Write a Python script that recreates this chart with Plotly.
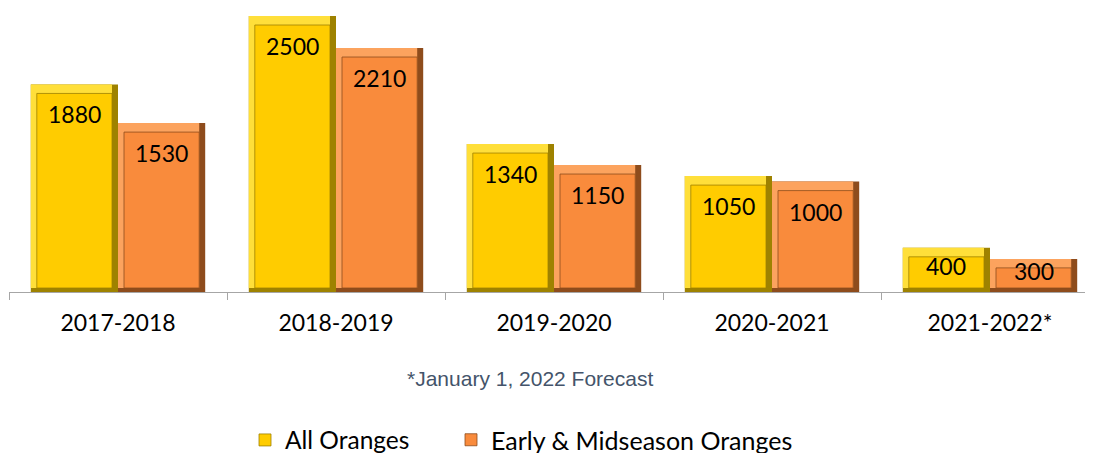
import plotly.graph_objects as go

categories = ["2017-2018", "2018-2019", "2019-2020", "2020-2021", "2021-2022*"]
all_oranges = [1880, 2500, 1340, 1050, 400]
early_mid = [1530, 2210, 1150, 1000, 300]

# page body has an 8px default margin, so the figure is drawn 8px smaller
W, H = 1085, 445
ml, mr, mt, mb = 1, 0, 0, 161
ph = H - mt - mb
pw = W - ml - mr
x_range = [-0.5, 4.4725]
cat_px = pw / (x_range[1] - x_range[0])
y_max = 2500 * ph / 276
ppu = ph / y_max

bar_w = 0.4
dx = 6 / cat_px          # bevel width in category units
dy_top = 9 / ppu         # bevel height in data units
dy_bot = 4 / ppu

series = [
    dict(name="All Oranges", vals=all_oranges, off=-bar_w, legend="legend",
         dark="#9E8200", light="#FFDF3A", face="#FFCC00"),
    dict(name="Early & Midseason Oranges", vals=early_mid, off=0.0, legend="legend2",
         dark="#8E4C1C", light="#FCA35E", face="#F98B3C"),
]

fig = go.Figure()
for s in series:
    v = s["vals"]
    fig.add_trace(go.Bar(x=categories, y=v, offset=s["off"], width=bar_w,
                         marker=dict(color=s["dark"], line=dict(width=0)),
                         showlegend=False, hoverinfo="skip"))
    fig.add_trace(go.Bar(x=categories, y=[max(a - dy_bot, 0) for a in v], base=dy_bot,
                         offset=s["off"], width=bar_w - dx,
                         marker=dict(color=s["light"], line=dict(width=0)),
                         showlegend=False, hoverinfo="skip"))
    fig.add_trace(go.Bar(x=categories, y=[max(a - dy_bot - dy_top, 0) for a in v], base=dy_bot,
                         offset=s["off"] + dx, width=bar_w - 2 * dx,
                         marker=dict(color=s["face"], line=dict(color=s["dark"], width=0.8)),
                         name=s["name"], showlegend=True, legend=s["legend"]))

annotations = []
for s in series:
    for i, a in enumerate(s["vals"]):
        shift = -min(30, a * ppu / 2 - 4)
        annotations.append(dict(x=i + s["off"] + bar_w / 2, y=a, xref="x", yref="y",
                                text=str(a), showarrow=False, yshift=shift,
                                xanchor="center", yanchor="middle",
                                font=dict(family="Lato", size=23, color="black")))

annotations.append(dict(text="*January 1, 2022 Forecast", xref="paper", yref="paper",
                        x=(522 - ml) / pw, y=(ph - 370) / ph,
                        xanchor="center", yanchor="middle", showarrow=False,
                        font=dict(family="Liberation Sans", size=21, color="#44546A")))

leg_common = dict(orientation="h", xanchor="left", yanchor="middle",
                  y=(ph - 432) / ph, itemwidth=30, bgcolor="rgba(0,0,0,0)")

fig.update_layout(
    width=W, height=H,
    margin=dict(l=ml, r=mr, t=mt, b=mb, autoexpand=False),
    paper_bgcolor="white", plot_bgcolor="white",
    barmode="overlay",
    showlegend=True,
    legend=dict(leg_common, x=(237 - ml) / pw,
                font=dict(family="Lato", size=24.5, color="black")),
    legend2=dict(leg_common, x=(443 - ml) / pw,
                 font=dict(family="Lato", size=25, color="black")),
    xaxis=dict(range=x_range, showline=True, linecolor="#A6A6A6", linewidth=1,
               ticks="outside", ticklen=7, tickcolor="#A6A6A6",
               tickson="boundaries", automargin=False, ticklabelstandoff=10,
               tickfont=dict(family="Lato", size=23, color="black")),
    yaxis=dict(range=[0, y_max], visible=False, showgrid=False, automargin=False),
    annotations=annotations,
)
fig.write_html("out.html")
